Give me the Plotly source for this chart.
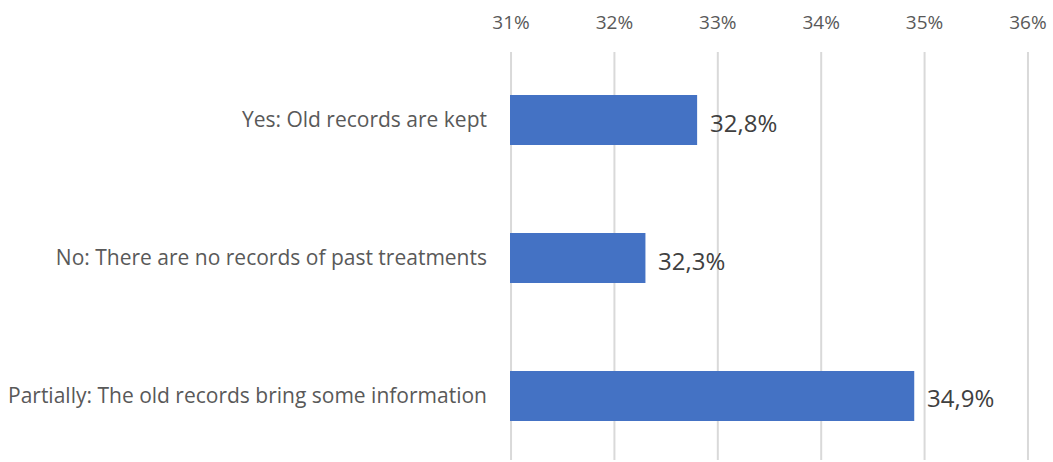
import plotly.graph_objects as go

categories = [
    "Yes: Old records are kept",
    "No: There are no records of past treatments",
    "Partially: The old records bring some information",
]
values = [32.8, 32.3, 34.9]
tick_vals = [31, 32, 33, 34, 35, 36]
tick_text = ["31%", "32%", "33%", "34%", "35%", "36%"]

labels = [f"{v:.1f}%".replace(".", ",") for v in values]

FONT = "Open Sans"

fig = go.Figure(
    go.Bar(
        y=categories,
        x=values,
        base=0,
        orientation="h",
        marker=dict(color="#4472C4", line=dict(width=0)),
        width=0.362,
        hoverinfo="x+y",
    )
)

# vertical gridlines (drawn as shapes so the edge lines at 31% and 36% show)
for tv in tick_vals:
    fig.add_shape(
        type="line", xref="x", yref="paper",
        x0=tv, x1=tv, y0=0, y1=1,
        line=dict(color="#d9d9d9", width=2),
        layer="below",
    )

for cat, v, lab in zip(categories, values, labels):
    fig.add_annotation(
        x=v, y=cat, text=lab, showarrow=False,
        xanchor="left", yanchor="middle", xshift=11, yshift=-2,
        font=dict(family=FONT, size=24, color="#404040"),
    )

fig.update_layout(
    width=1053,
    height=462,
    margin=dict(l=510, r=24, t=52, b=2),
    paper_bgcolor="white",
    plot_bgcolor="white",
    font=dict(family=FONT, color="#595959", size=20),
    showlegend=False,
    xaxis=dict(
        side="top",
        range=[30.99, 36.01],
        tickvals=tick_vals,
        ticktext=tick_text,
        showgrid=False,
        zeroline=False,
        showline=False,
        ticks="",
        ticklabelstandoff=18,
        tickfont=dict(size=19, color="#595959"),
    ),
    yaxis=dict(
        type="category",
        categoryorder="array",
        categoryarray=categories,
        range=[2.464, -0.493],
        showgrid=False,
        zeroline=False,
        showline=False,
        ticks="",
        ticklabelstandoff=22,
        tickfont=dict(size=21, color="#595959"),
    ),
)

fig.write_html("out.html")
